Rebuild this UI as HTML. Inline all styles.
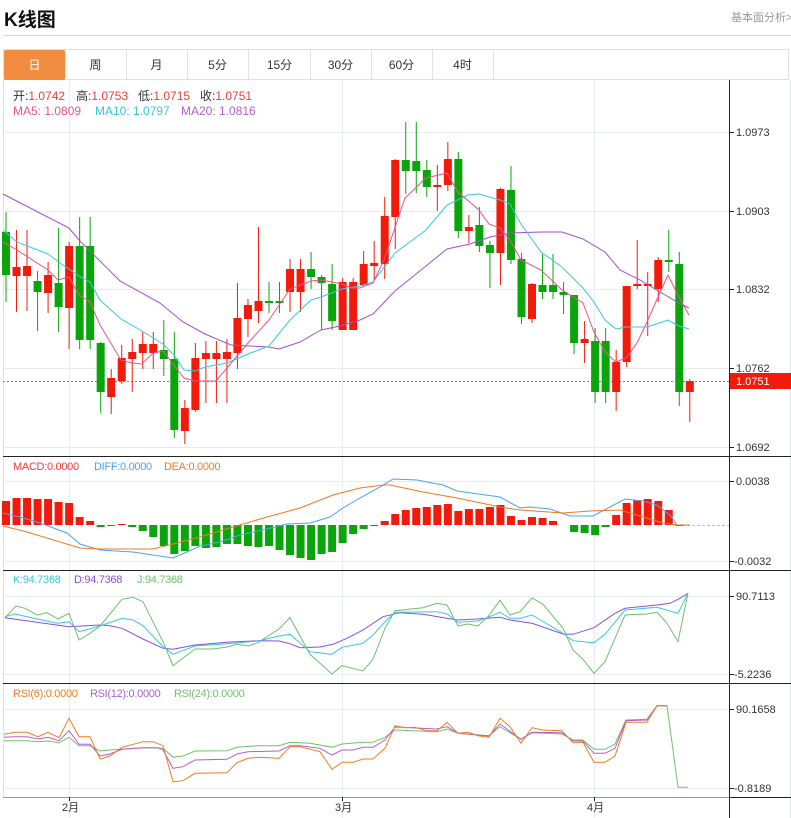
<!DOCTYPE html>
<html><head><meta charset="utf-8"><style>
body{margin:0;width:791px;height:818px;background:#fff;font-family:"Liberation Sans","Noto Sans CJK SC",sans-serif;overflow:hidden;position:relative}
.t{position:absolute;white-space:nowrap}
.tab{position:absolute;top:50px;height:30px;line-height:30px;text-align:center;font-size:12px;color:#333;border-right:1px solid #dde2e6}
</style></head><body>
<div class="t" style="left:4px;top:5px;font-size:19px;font-weight:bold;color:#111">K线图</div>
<div class="t" style="left:731px;top:9px;font-size:11px;color:#999">基本面分析&gt;</div>
<div style="position:absolute;left:3px;top:35px;width:788px;height:1px;background:#d4d4d4"></div>
<div style="position:absolute;left:3px;top:49px;width:786px;height:31px;border:1px solid #dde2e6;border-bottom:1px solid #dde2e6;box-sizing:border-box"></div>
<div class="tab" style="left:4px;width:61px;background:#f28c3e;color:#fff;border-radius:2px">日</div>
<div class="tab" style="left:65px;width:61px">周</div>
<div class="tab" style="left:126px;width:61px">月</div>
<div class="tab" style="left:187px;width:61px">5分</div>
<div class="tab" style="left:249px;width:61px">15分</div>
<div class="tab" style="left:310px;width:61px">30分</div>
<div class="tab" style="left:371px;width:61px">60分</div>
<div class="tab" style="left:432px;width:61px">4时</div>
<svg id="s" width="791" height="818" style="position:absolute;left:0;top:0" font-family="Liberation Sans, Noto Sans CJK SC, sans-serif">
<g stroke="#e6ecf0" stroke-width="1">
<line x1="3" y1="132.5" x2="729" y2="132.5"/><line x1="3" y1="211.5" x2="729" y2="211.5"/><line x1="3" y1="289.5" x2="729" y2="289.5"/><line x1="3" y1="368.5" x2="729" y2="368.5"/><line x1="3" y1="447.5" x2="729" y2="447.5"/>
<line x1="3" y1="481.5" x2="729" y2="481.5"/><line x1="3" y1="561.5" x2="729" y2="561.5"/>
<line x1="3" y1="596.5" x2="729" y2="596.5"/><line x1="3" y1="674.5" x2="729" y2="674.5"/>
<line x1="3" y1="709.5" x2="729" y2="709.5"/><line x1="3" y1="788.5" x2="729" y2="788.5"/>
<line x1="69.5" y1="80" x2="69.5" y2="818"/><line x1="342.5" y1="80" x2="342.5" y2="818"/><line x1="594.5" y1="80" x2="594.5" y2="818"/>
</g>
<line x1="3.5" y1="80" x2="3.5" y2="797" stroke="#dde2e6"/>
<line x1="790.5" y1="80" x2="790.5" y2="818" stroke="#dde2e6"/>
<g stroke="#222" stroke-width="1">
<line x1="729.5" y1="80" x2="729.5" y2="818"/>
<line x1="3" y1="456.5" x2="791" y2="456.5"/><line x1="3" y1="570.5" x2="791" y2="570.5"/><line x1="3" y1="683.5" x2="791" y2="683.5"/>
<line x1="3" y1="797.5" x2="729" y2="797.5" stroke="#999"/>
<line x1="729" y1="797.5" x2="791" y2="797.5"/>
<line x1="729" y1="132.5" x2="734" y2="132.5"/><line x1="729" y1="211.5" x2="734" y2="211.5"/><line x1="729" y1="289.5" x2="734" y2="289.5"/><line x1="729" y1="368.5" x2="734" y2="368.5"/><line x1="729" y1="447.5" x2="734" y2="447.5"/>
<line x1="729" y1="481.5" x2="734" y2="481.5"/><line x1="729" y1="561.5" x2="734" y2="561.5"/><line x1="729" y1="596.5" x2="734" y2="596.5"/><line x1="729" y1="674.5" x2="734" y2="674.5"/><line x1="729" y1="709.5" x2="734" y2="709.5"/><line x1="729" y1="788.5" x2="734" y2="788.5"/>
<line x1="69.5" y1="797" x2="69.5" y2="801"/><line x1="342.5" y1="797" x2="342.5" y2="801"/><line x1="594.5" y1="797" x2="594.5" y2="801"/>
</g>
<g font-size="11" fill="#333">
<text x="736" y="136">1.0973</text><text x="736" y="215">1.0903</text><text x="736" y="293">1.0832</text><text x="736" y="372">1.0762</text><text x="736" y="451">1.0692</text>
<text x="736" y="485">0.0038</text><text x="734" y="565">-0.0032</text>
<text x="736" y="600">90.7113</text><text x="734" y="678">-5.2236</text>
<text x="736" y="713">90.1658</text><text x="734" y="792">-0.8189</text>
<text x="62" y="811">2月</text><text x="335" y="811">3月</text><text x="587" y="811">4月</text>
</g>
<line x1="3" y1="381.5" x2="729" y2="381.5" stroke="#f05050" stroke-dasharray="2,2"/>
<rect x="730" y="373" width="61" height="16" fill="#f21b0b"/>
<text x="736" y="385" font-size="11" fill="#fff">1.0751</text>
<line x1="677" y1="525.5" x2="729" y2="525.5" stroke="#8fd4ee" stroke-dasharray="3,2"/>
<g font-size="12">
<text y="100"><tspan x="13" fill="#333">开:</tspan><tspan fill="#f03a3a">1.0742</tspan><tspan x="76" fill="#333">高:</tspan><tspan fill="#f03a3a">1.0753</tspan><tspan x="138" fill="#333">低:</tspan><tspan fill="#f03a3a">1.0715</tspan><tspan x="200" fill="#333">收:</tspan><tspan fill="#f03a3a">1.0751</tspan></text>
<text y="115"><tspan x="13" fill="#f0508a">MA5: 1.0809</tspan><tspan x="95" fill="#38c8e0">MA10: 1.0797</tspan><tspan x="181" fill="#b060d0">MA20: 1.0816</tspan></text>
</g>
<g font-size="11" letter-spacing="-0.3">
<text y="470"><tspan x="13" fill="#f03a3a">MACD:0.0000</tspan><tspan x="94" fill="#4aa3f0">DIFF:0.0000</tspan><tspan x="164" fill="#f07a20">DEA:0.0000</tspan></text>
<text y="583"><tspan x="13" fill="#38c8e0">K:94.7368</tspan><tspan x="74" fill="#8a50d8">D:94.7368</tspan><tspan x="137" fill="#6cc06c">J:94.7368</tspan></text>
<text y="697"><tspan x="13" fill="#f57a20">RSI(6):0.0000</tspan><tspan x="90" fill="#b060d0">RSI(12):0.0000</tspan><tspan x="174" fill="#70c070">RSI(24):0.0000</tspan></text>
</g>
<g id="g"></g>
</svg>
<script>
var R="#f21b0b",G="#0aa50a";
var C=[[232,275,212,302,0],[267,276,230,312,1],[266,276,230,311,1],[281,292,271,331,0],[275,293,262,313,1],[283,307,228,332,0],[246,308,242,349,1],[246,340,217,349,0],[246,340,217,349,0],[343,392,342,413,0],[378,397,369,414,1],[358,381,345,384,1],[352,359,339,392,1],[344,353,332,369,1],[344,353,332,369,1],[350,359,320,376,0],[359,430,332,438,0],[408,431,400,444,1],[358,410,343,412,1],[353,359,341,403,1],[353,359,341,403,1],[352,359,339,403,1],[318,353,283,369,1],[305,319,299,337,1],[301,311,227,323,1],[301,303,282,313,0],[301,303,282,313,0],[269,292,259,312,1],[269,292,259,312,1],[269,277,252,289,0],[277,283,275,330,0],[284,321,264,330,0],[282,330,278,330,1],[282,330,278,330,1],[264,285,251,287,1],[263,266,241,280,1],[216,264,197,279,1],[160,217,159,249,1],[160,171,122,194,0],[161,171,122,193,0],[170,187,160,197,0],[185,187,165,211,1],[159,185,142,191,1],[159,231,152,238,0],[227,231,215,243,1],[225,246,207,252,0],[245,253,241,288,0],[189,253,188,285,1],[190,260,166,264,0],[259,317,253,324,0],[284,319,283,323,1],[285,292,254,299,0],[285,292,254,299,0],[292,295,282,314,0],[295,343,295,354,0],[339,343,321,363,1],[341,392,328,403,0],[341,392,328,403,0],[362,392,350,411,1],[286,362,286,367,1],[284,286,240,289,1],[284,286,272,336,1],[260,289,257,302,1],[260,262,230,272,0],[264,392,252,406,0],[381,392,379,422,1]];
var M=[501,498,498,499,499,502,503,517,521,527,526,524,527,531,537,546,554,551,546,548,547,544,544,546,547,546,550,555,558,560,554,552,543,534,529,526,521,514,510,508,507,505,504,511,509,509,507,505,516,520,517,518,521,525,532,533,535,527,515,503,500,499,501,510,526,525];
var h="";function X(i){return 6+i*10.52;}
C.forEach(function(c,i){var x=X(i),col=c[4]?R:G;h+='<line x1="'+x+'" x2="'+x+'" y1="'+c[2]+'" y2="'+c[3]+'" stroke="'+col+'"/>';var hh=Math.max(c[1]-c[0],2);h+='<rect x="'+(x-4)+'" y="'+c[0]+'" width="8" height="'+hh+'" fill="'+col+'"/>';});
M.forEach(function(m,i){var x=X(i);var t=Math.min(m,525),b=Math.max(m,525);if(b-t<1)return;h+='<rect x="'+(x-4)+'" y="'+t+'" width="8" height="'+(b-t)+'" fill="'+(m<525?R:G)+'"/>';});
function P(s,c,w){h+='<polyline fill="none" stroke="'+c+'" stroke-width="'+(w||1)+'" points="'+s+'"/>';}
P("3,194 69,228 79,240 120,281 160,303 183,322 205,334 231,345 269,347 279,349 300,342 321,330 340,326 360,320 373,314 395,291 447,249 470,244 490,237 510,233 541,232 562,232 583,239 605,252 620,270 640,280 660,292 679,303 689,308","#a050d0");
P("3,230 17,242 48,254 60,263 79,276 90,282 100,300 121,319 142,331 163,344 174,355 184,370 195,371 205,367 227,363 248,354 269,346 290,320 311,300 321,297 342,289 360,286 373,282 395,253 426,230 447,205 468,195 479,194 500,200 510,204 521,224 541,252 562,267 583,288 594,302 605,320 616,329 626,327 647,327 668,320 679,326 689,329","#38c8e0");
P("3,242 17,250 48,270 58,280 69,277 79,295 90,302 100,325 121,360 132,363 142,364 153,353 163,351 184,378 195,381 216,381 227,368 248,343 269,320 290,289 311,281 321,280 342,284 352,288 360,288 373,283 384,260 405,198 426,178 447,173 458,192 479,210 489,224 500,228 510,240 521,260 541,270 562,290 583,303 594,332 605,352 616,362 626,358 637,343 647,322 658,297 668,275 679,297 689,315","#f0508a");
P("3,513 20,517 40,523 67,533 80,544 100,550 133,552 173,558 187,552 200,546 220,542 240,535 267,529 287,524 310,523 330,517 343,508 360,498 380,487 393,479 417,480 443,485 457,491 500,497 520,508 530,507 550,509 570,516 593,516 610,507 625,499 643,501 657,505 670,515 677,525 690,525","#4aa3f0");
P("3,526 27,532 80,548 100,549 153,549 173,544 200,537 233,527 267,517 300,508 333,495 360,488 383,485 390,485 423,492 457,498 500,507 520,510 563,513 590,511 620,510 643,517 663,523 677,525 690,525","#f07a20");
P("5,617.7 37,622.3 69,626.7 100,625 110,625.7 122,628.3 143,639 163,648.3 173,649.3 195,645 227,642.3 258,640.7 279,641 290,643.7 300,647.7 320,647 333,644.3 347,638.3 363,630 383,616.7 400,612.7 423,614.3 457,620 477,619 500,617.3 510,620 532,623.3 563,634 573,634.3 594,627.7 615,613.3 625,608.3 657,605 670,603.3 678,599.3 688,593.3","#8a50d8");
P("5,616.7 15,614 37,619 58,623.3 69,621.7 79,631.7 100,626 122,618.3 133,620 143,625.7 163,646.7 173,654.3 195,646 227,643.7 258,641 279,636 290,634.3 310,651.7 332,654.3 342,647.3 363,643.3 373,635 385,621.7 395,612.3 437,611.7 447,614 458,622.3 478,621 488,617.3 500,612.3 510,618.3 520,618.3 532,615 563,633.3 573,640.7 594,642.7 605,634.3 625,610 657,607.3 678,613.3 688,593.3","#38c8e0");
P("5,617.7 16,606 25,608.3 37,615 47,612.7 58,619 69,613.3 79,640 90,633.3 100,626 122,599.3 133,597.3 143,601.7 163,641.7 173,665.7 195,649 213,649 227,647 237,644.3 248,646 258,642.7 268,636 279,629 290,617.7 310,654.3 332,674 342,665.7 363,671 373,659.3 385,628.3 395,610.7 423,607.7 437,603.3 447,605 458,626 468,624 478,626 488,616.7 500,600.3 510,615 520,611.7 532,598 543,604.3 563,628.3 573,650 583,659.3 594,673.3 605,661.7 625,615 647,614 657,612.3 667,623.3 678,641.7 688,593.3","#6cc06c");
P("4,740.7 27,740.7 38,741.7 48,741 59,742.7 69,737.3 79,745.7 90,745.7 100,751 110,750 143,747.7 163,748.3 173,757.3 183,756 195,751 227,750.7 237,747.3 258,745.7 279,745.7 290,742.3 310,743.3 332,747.3 342,744 363,742.3 373,742.3 385,737.3 395,730 437,731.7 447,729 458,733.3 489,735.7 500,726.7 521,739.3 532,732.7 562,734 573,740 583,740 594,749.3 605,749.3 615,744 626,720 647,719.3 657,705.7 667,705.7 678,787.3 688,787.3","#70c070");
P("4,737.3 15,736.7 27,736.7 38,739 48,737.3 59,740.7 69,730.7 79,744.3 90,744.3 100,756 110,754 122,749.3 143,747.7 158,747.7 163,750 173,768.3 183,766.7 195,760 227,759.3 237,754 248,751.7 279,751 290,745.7 300,745.7 320,748.3 332,755 342,750 353,750 363,747.3 373,747.3 385,740 395,727 437,729 447,726.7 458,733.3 489,736 500,724 521,739.3 532,732.3 562,732.7 573,741 583,741 594,753.3 605,753.3 615,748.3 626,720.7 647,720 657,705.7 667,705.7","#b060d0");
P("4,734.3 15,732.3 27,732.3 38,736.7 48,732.3 59,737.7 69,718.3 79,736.7 90,736.7 100,759 110,756 122,747.3 143,741.7 153,741.7 163,745.7 173,781.7 183,780.7 195,773.3 227,772.7 237,762.7 248,758.3 258,757.3 279,758.3 290,746.7 300,746.7 320,751.7 332,769.3 342,762.3 353,762.3 363,759 373,759 385,748.3 395,725.7 405,727.7 415,727.3 427,730.7 437,730.7 447,722.3 458,733.3 468,732.3 478,735.7 489,737.3 500,718.3 510,726.7 521,743.3 532,727.7 542,730 562,730.7 573,742.7 583,742.3 594,762.3 605,762.3 615,756 626,722.3 647,722.3 657,705.7 667,705.7","#f57a20");
document.getElementById("g").innerHTML=h;
</script>
</body></html>
